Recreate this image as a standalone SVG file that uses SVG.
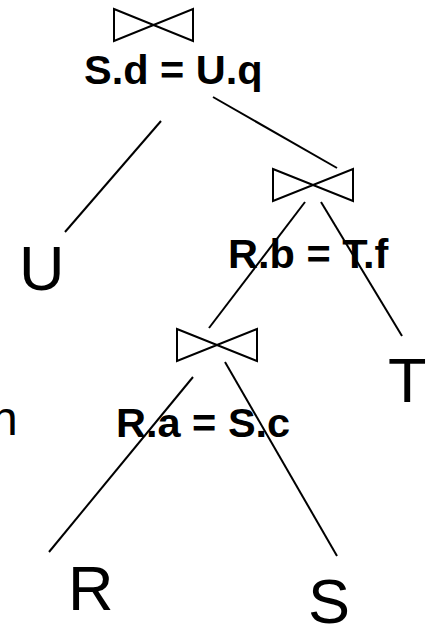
<svg xmlns="http://www.w3.org/2000/svg" width="434" height="627" viewBox="0 0 434 627">
<style>
.bt{fill:none;stroke:#000;stroke-width:2;stroke-linejoin:miter}
.ln{stroke:#000;stroke-width:2;fill:none}
.rel{font-family:"Liberation Sans",Arial,sans-serif;font-size:63px;fill:#000}
.cond{font-family:"Liberation Sans",Arial,sans-serif;font-size:41.5px;font-weight:bold;fill:#000}
</style>
<rect width="434" height="627" fill="#fff"/>
<g id="connectors">
<line class="ln" x1="161" y1="121" x2="65" y2="232"/>
<line class="ln" x1="213" y1="97" x2="337" y2="168"/>
<line class="ln" x1="305" y1="202" x2="209" y2="328"/>
<line class="ln" x1="321" y1="202" x2="402" y2="336"/>
<line class="ln" x1="193" y1="377" x2="49" y2="552"/>
<line class="ln" x1="225" y1="362" x2="337" y2="556"/>
</g>
<g id="join1">
<path class="bt" d="M114 9 L193 41 L193 9 L114 41 Z"/>
<text class="cond" x="84" y="84">S.d = U.q</text>
</g>
<g id="join2">
<path class="bt" d="M273 169 L353 201 L353 169 L273 201 Z"/>
<text class="cond" x="228" y="268">R.b = T.f</text>
</g>
<g id="join3">
<path class="bt" d="M177 329 L257 361 L257 329 L177 361 Z"/>
<text class="cond" x="116" y="437">R.a = S.c</text>
</g>
<g id="U"><text class="rel" x="19" y="290">U</text></g>
<g id="T"><text class="rel" x="388" y="402">T</text></g>
<g id="R"><text class="rel" x="68" y="610">R</text></g>
<g id="S"><text class="rel" x="308" y="623">S</text></g>
<g id="cut"><text font-family="'Liberation Sans',Arial,sans-serif" font-size="48" x="-9" y="435">n</text></g>
</svg>
